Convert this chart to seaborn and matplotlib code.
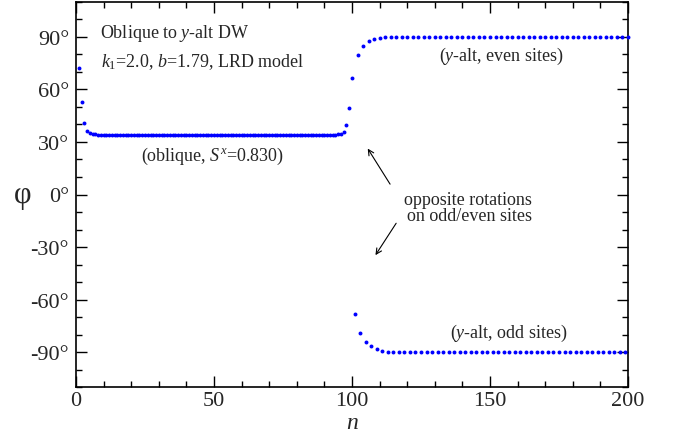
import numpy as np
import pandas as pd
import matplotlib
matplotlib.use("Agg")
import matplotlib.pyplot as plt
from matplotlib.ticker import MultipleLocator, FuncFormatter
import seaborn as sns

# --- data: angle phi (degrees) versus site index n -------------------------
# oblique domain, every site n = 1..100
head_phi = [72.0, 52.8, 40.7, 36.2, 35.0, 34.6, 34.4]          # n = 1..7
plateau_phi = 34.2                                              # n = 8..94
plateau_count = 87
wall_phi = [34.4, 34.8, 35.8, 39.6, 49.5, 66.3]                 # n = 95..100

# y-alt domain, even sites n = 102, 104, ..., 200
even_phi_head = [79.6, 84.7, 87.4, 88.6, 89.3, 89.7, 89.9]       # n = 102..114
even_phi_tail = 90.0
# y-alt domain, odd sites n = 101, 103, ..., 199
odd_phi_head = [-68.2, -79.0, -84.0, -86.6, -88.1, -89.1, -89.6, -89.9]  # n = 101..115
odd_phi_tail = -90.0

x_ticks = [0, 50, 100, 150, 200]
y_ticks = [-90, -60, -30, 0, 30, 60, 90]

# --- assemble tables ------------------------------------------------------
oblique_phi = head_phi + [plateau_phi] * plateau_count + wall_phi
oblique_n = list(range(1, len(oblique_phi) + 1))

even_n = list(range(102, 201, 2))
even_phi = even_phi_head + [even_phi_tail] * (len(even_n) - len(even_phi_head))
odd_n = list(range(101, 200, 2))
odd_phi = odd_phi_head + [odd_phi_tail] * (len(odd_n) - len(odd_phi_head))

df = pd.DataFrame({
    "n": oblique_n + even_n + odd_n,
    "phi": oblique_phi + even_phi + odd_phi,
})

# --- style ----------------------------------------------------------------
sns.set_style("ticks", {"xtick.direction": "in", "ytick.direction": "in"})
plt.rcParams["font.family"] = ["Liberation Serif", "DejaVu Serif"]
plt.rcParams["mathtext.fontset"] = "custom"
plt.rcParams["mathtext.rm"] = "Liberation Serif"
plt.rcParams["mathtext.it"] = "Liberation Serif:italic"
plt.rcParams["axes.unicode_minus"] = False

fig = plt.figure(figsize=(6.78, 4.35), dpi=100)
ax = fig.add_axes([76 / 678, (435 - 388.3) / 435, 552 / 678, 385.6 / 435])

sns.scatterplot(data=df, x="n", y="phi", ax=ax, color="#0000ff",
                s=8, linewidth=0, zorder=3, legend=False, clip_on=False)

ax.set_xlim(0, 200)
ax.set_ylim(-110, 110)
ax.set_xticks(x_ticks)
ax.set_yticks(y_ticks)
ax.xaxis.set_minor_locator(MultipleLocator(10))
ax.yaxis.set_minor_locator(MultipleLocator(10))
ax.yaxis.set_major_formatter(FuncFormatter(lambda v, p: f"{int(v)}\u00b0"))

for side in ["top", "right", "left", "bottom"]:
    ax.spines[side].set_visible(True)
    ax.spines[side].set_linewidth(1.2)
    ax.spines[side].set_color("black")

ax.tick_params(which="both", direction="in", top=True, right=True,
               color="black", width=1.0)
ax.tick_params(which="major", length=8, labelsize=16, pad=3)
ax.tick_params(which="minor", length=4)
ax.tick_params(axis="y", pad=5)

ax.set_xlabel("$n$", fontsize=17, va="center")
ax.xaxis.set_label_coords(0.5, -0.09)
ax.set_ylabel("\u03c6", fontsize=22, rotation=0, va="center", ha="center")
ax.yaxis.set_label_coords(-0.096, 0.5)

fs = 13
ax.text(8.7, 92.6, "Oblique to $y$-alt DW", fontsize=fs, ha="left", va="center")
ax.text(9.0, 76.0, "$k_1$=2.0, $b$=1.79, LRD model", fontsize=fs,
        ha="left", va="center")
ax.text(49.5, 22.4, "(oblique, $S^x$=0.830)", fontsize=fs, ha="center", va="center")
ax.text(154.2, 79.4, "($y$-alt, even sites)", fontsize=fs, ha="center", va="center")
ax.text(157.0, -78.6, "($y$-alt, odd sites)", fontsize=fs, ha="center", va="center")
ax.text(165.1, -2.7, "opposite rotations", fontsize=fs, ha="right", va="center")
ax.text(165.1, -11.8, "on odd/even sites", fontsize=fs, ha="right", va="center")

arrow = dict(arrowstyle="->", color="black", lw=0.8, shrinkA=0, shrinkB=0)
ax.annotate("", xy=(105.7, 26.2), xytext=(113.8, 5.9), arrowprops=arrow)
ax.annotate("", xy=(108.5, -34.6), xytext=(116.0, -16.4), arrowprops=arrow)

fig.savefig("out.png", dpi=100)
